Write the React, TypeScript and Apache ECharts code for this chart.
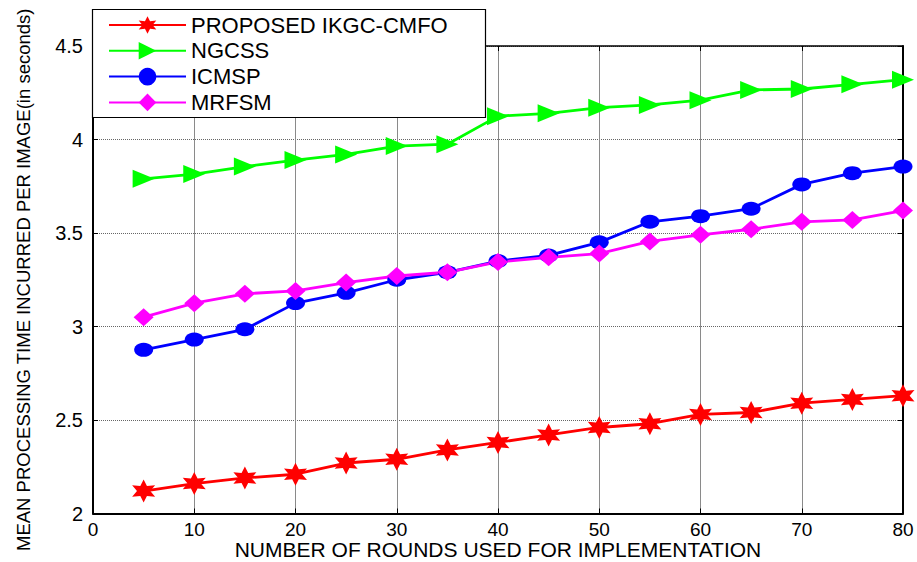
import React, { useEffect, useRef } from "react";
import * as echarts from "echarts";

const rounds = [5, 10, 15, 20, 25, 30, 35, 40, 45, 50, 55, 60, 65, 70, 75, 80];
const proposed = [2.12, 2.16, 2.19, 2.21, 2.27, 2.29, 2.34, 2.38, 2.42, 2.46, 2.48, 2.53, 2.54, 2.59, 2.61, 2.63];
const ngcss = [3.79, 3.815, 3.855, 3.89, 3.92, 3.965, 3.975, 4.125, 4.14, 4.17, 4.185, 4.21, 4.265, 4.27, 4.295, 4.32];
const icmsp = [2.875, 2.93, 2.985, 3.125, 3.18, 3.25, 3.29, 3.35, 3.38, 3.45, 3.56, 3.59, 3.63, 3.76, 3.82, 3.855];
const mrfsm = [3.05, 3.125, 3.175, 3.19, 3.235, 3.27, 3.29, 3.345, 3.37, 3.39, 3.455, 3.49, 3.52, 3.56, 3.57, 3.62];

const seriesNames = ["PROPOSED IKGC-CMFO", "NGCSS", "ICMSP", "MRFSM"];
const seriesColors = ["#ff0000", "#00ff00", "#0000ff", "#ff00ff"];

const xAxisTitle = "NUMBER OF ROUNDS USED FOR IMPLEMENTATION";
const yAxisTitle = "MEAN PROCESSING TIME INCURRED PER IMAGE(in seconds)";

const HEXAGRAM =
  "path://M10,0 L7.5,5.67 L1.34,5 L5,10 L1.34,15 L7.5,14.33 L10,20 L12.5,14.33 L18.66,15 L15,10 L18.66,5 L12.5,5.67 Z";
const TRIANGLE_RIGHT = "path://M0,0 L12,6 L0,12 Z";

const FONT = "'Liberation Sans', Arial, sans-serif";

export default function App() {
  const ref = useRef<HTMLDivElement>(null);

  useEffect(() => {
    if (!ref.current) return;
    const chart = echarts.init(ref.current, undefined, { renderer: "svg" });

    const pairs = (vals: number[]) => rounds.map((r, i) => [r, vals[i]]);
    const allValues = [proposed, ngcss, icmsp, mrfsm];
    const symbols = [HEXAGRAM, TRIANGLE_RIGHT, "circle", "diamond"];
    const sizes = [
      [23, 23],
      [22, 18],
      [19, 14],
      [20, 18],
    ];

    const option = {
      animation: false,
      backgroundColor: "#ffffff",
      textStyle: { fontFamily: FONT },
      grid: {
        left: 93,
        right: 14,
        top: 46,
        bottom: 48.5,
        containLabel: false,
        outerBoundsMode: "none",
      },
      graphic: [
        {
          type: "rect",
          z: 100,
          shape: { x: 92.5, y: 9.5, width: 393, height: 108 },
          style: { fill: "#ffffff", stroke: "#000000", lineWidth: 1.2 },
        },
      ],
      legend: {
        z: 200,
        orient: "vertical",
        left: 108,
        top: 14,
        itemWidth: 77,
        itemHeight: 22,
        itemGap: 3.8,
        padding: 0,
        textStyle: { fontFamily: FONT, fontSize: 22, color: "#000" },
        data: seriesNames,
      },
      xAxis: [
        {
          type: "value",
          min: 0,
          max: 80,
          interval: 10,
          name: xAxisTitle,
          nameLocation: "middle",
          nameGap: 25.5,
          nameMoveOverlap: false,
          nameTextStyle: { fontFamily: FONT, fontSize: 21, color: "#000", lineHeight: 21 },
          axisLine: { show: true, onZero: false, lineStyle: { color: "#000", width: 2 } },
          axisTick: { show: true, inside: true, length: 5, lineStyle: { color: "#000", width: 1 } },
          axisLabel: { fontFamily: FONT, fontSize: 19, color: "#000", margin: 6, lineHeight: 19 },
          splitLine: { show: true, lineStyle: { color: "#8a8a8a", width: 1, type: "solid" } },
        },
        {
          type: "value",
          position: "top",
          min: 0,
          max: 80,
          interval: 10,
          axisLine: { show: true, onZero: false, lineStyle: { color: "#000", width: 1.5 } },
          axisTick: { show: true, inside: true, length: 5, lineStyle: { color: "#000", width: 1 } },
          axisLabel: { show: false },
          splitLine: { show: false },
        },
      ],
      yAxis: [
        {
          type: "value",
          min: 2,
          max: 4.5,
          interval: 0.5,
          name: yAxisTitle,
          nameLocation: "middle",
          nameGap: 60,
          nameMoveOverlap: false,
          nameTextStyle: { fontFamily: FONT, fontSize: 18.5, color: "#000" },
          axisLine: { show: true, onZero: false, lineStyle: { color: "#000", width: 2 } },
          axisTick: { show: true, inside: true, length: 5, lineStyle: { color: "#000", width: 1 } },
          axisLabel: { fontFamily: FONT, fontSize: 20, color: "#000", margin: 10 },
          splitLine: { show: true, lineStyle: { color: "#666", width: 1, type: "dotted" } },
        },
        {
          type: "value",
          position: "right",
          min: 2,
          max: 4.5,
          interval: 0.5,
          axisLine: { show: true, onZero: false, lineStyle: { color: "#000", width: 2 } },
          axisTick: { show: true, inside: true, length: 5, lineStyle: { color: "#000", width: 1 } },
          axisLabel: { show: false },
          splitLine: { show: false },
        },
      ],
      series: seriesNames.map((name, i) => ({
        name,
        type: "line",
        xAxisIndex: 0,
        yAxisIndex: 0,
        data: pairs(allValues[i]),
        symbol: symbols[i],
        symbolSize: sizes[i],
        showAllSymbol: true,
        lineStyle: { color: seriesColors[i], width: 2.8 },
        itemStyle: { color: seriesColors[i], borderWidth: 0 },
        z: 2,
      })),
    };

    chart.setOption(option as any);
    return () => chart.dispose();
  }, []);

  return (
    <div
      ref={ref}
      style={{ position: "fixed", left: 0, top: 0, width: 917, height: 562 }}
    />
  );
}
